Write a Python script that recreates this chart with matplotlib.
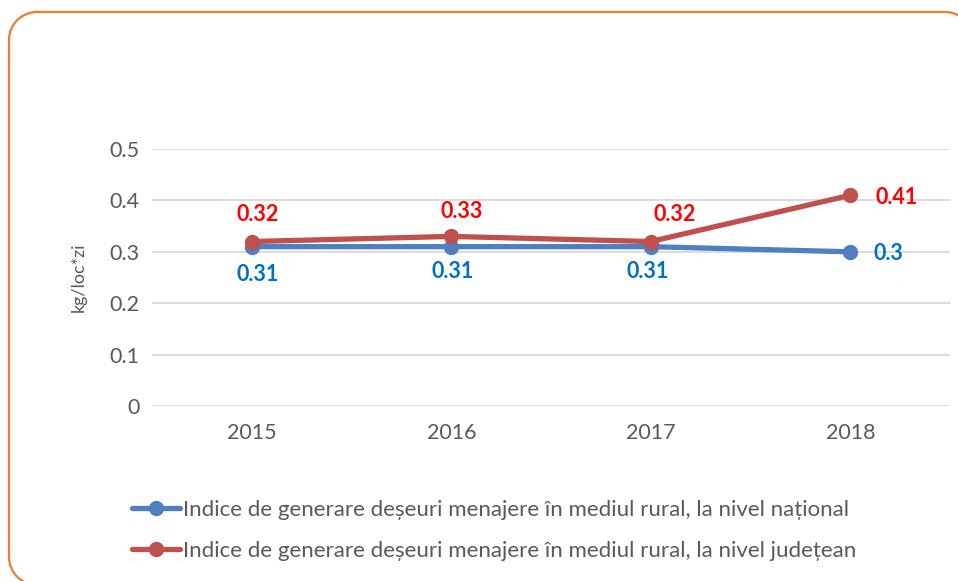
import matplotlib.pyplot as plt
from matplotlib.patches import Arc
from matplotlib.lines import Line2D

# ---------------------------
# Data
# ---------------------------
years = ["2015", "2016", "2017", "2018"]
national = [0.31, 0.31, 0.31, 0.30]
county = [0.32, 0.33, 0.32, 0.41]
national_labels = ["0.31", "0.31", "0.31", "0.3"]
county_labels = ["0.32", "0.33", "0.32", "0.41"]
yticks = [0, 0.1, 0.2, 0.3, 0.4, 0.5]
ytick_labels = ["0", "0.1", "0.2", "0.3", "0.4", "0.5"]

blue = "#4F7FC0"
red = "#C0504D"
gray = "#595959"
orange = "#ED7D31"

plt.rcParams['font.family'] = ['Lato', 'DejaVu Sans']

fig = plt.figure(figsize=(9.58, 5.81), dpi=100)

# rounded orange frame, drawn in inches (runs off right and bottom)
L, R, T, B, r = 0.09, 9.73, 5.69, -0.04, 0.28
tr = fig.dpi_scale_trans
kw = dict(transform=tr, color=orange, lw=1.6)
fig.add_artist(Line2D([L, L], [B + r, T - r], **kw))
fig.add_artist(Line2D([R, R], [B + r, T - r], **kw))
fig.add_artist(Line2D([L + r, R - r], [T, T], **kw))
fig.add_artist(Line2D([L + r, R - r], [B, B], **kw))
fig.add_artist(Arc((L + r, T - r), 2 * r, 2 * r, theta1=90, theta2=180, **kw))
fig.add_artist(Arc((R - r, T - r), 2 * r, 2 * r, theta1=0, theta2=90, **kw))
fig.add_artist(Arc((L + r, B + r), 2 * r, 2 * r, theta1=180, theta2=270, **kw))

ax = fig.add_axes([0.1587, 0.3012, 0.833, 0.4423])
x = list(range(len(years)))

ax.plot(x, national, color=blue, linewidth=3.8, marker="o", markersize=10,
        solid_capstyle="round", label="Indice de generare deșeuri menajere în mediul rural, la nivel național", zorder=3)
ax.plot(x, county, color=red, linewidth=3.8, marker="o", markersize=10,
        solid_capstyle="round", label="Indice de generare deșeuri menajere în mediul rural, la nivel județean", zorder=4)

ax.set_xlim(-0.5, 3.5)
ax.set_ylim(0, 0.5)
ax.set_xticks(x)
ax.set_xticklabels(years)
ax.set_yticks(yticks)
ax.set_yticklabels(ytick_labels)
ax.tick_params(length=0, labelsize=15.5, colors=gray, pad=9)
ax.tick_params(axis="x", pad=12)
for s in ax.spines.values():
    s.set_visible(False)
ax.grid(axis="y", color="#D9D9D9", linewidth=1.3)
ax.set_axisbelow(True)
ax.set_ylabel("kg/loc*zi", fontsize=13, color=gray, labelpad=16)

# data labels
lab = dict(fontsize=15.5, fontweight="bold", ha="center", va="center")
ax.text(x[0] + 0.03, 0.373, county_labels[0], color="#FF0000", **lab)
ax.annotate(county_labels[1], xy=(x[1] - 0.01, 0.333), xytext=(x[1] + 0.05, 0.378),
            color="#FF0000", arrowprops=dict(arrowstyle="-", color="#A6A6A6", lw=1, shrinkA=7, shrinkB=2), **lab)
ax.text(x[2] + 0.12, 0.373, county_labels[2], color="#FF0000", **lab)
ax.text(x[3] + 0.23, 0.406, county_labels[3], color="#FF0000", **lab)

ax.text(x[0] + 0.03, 0.255, national_labels[0], color="#0070C0", **lab)
ax.text(x[1] + 0.005, 0.261, national_labels[1], color="#0070C0", **lab)
ax.text(x[2] - 0.015, 0.261, national_labels[2], color="#0070C0", **lab)
ax.text(x[3] + 0.19, 0.296, national_labels[3], color="#0070C0", **lab)

# legend
fig.legend(loc="upper left", bbox_to_anchor=(0.128, 0.155), frameon=False,
           fontsize=16, labelcolor=gray, handlelength=2.2, handletextpad=0.12,
           labelspacing=0.95, borderaxespad=0)

fig.savefig("out.png", dpi=100)
